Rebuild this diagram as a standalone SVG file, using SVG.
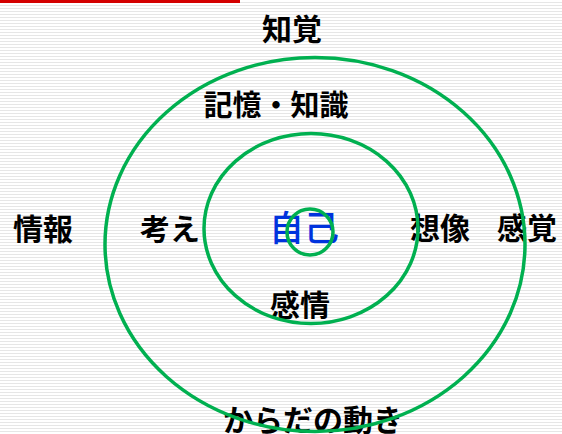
<svg xmlns="http://www.w3.org/2000/svg" width="562" height="434" viewBox="0 0 562 434">
<defs>
<pattern id="stripes" width="562" height="3" patternUnits="userSpaceOnUse">
<rect width="562" height="3" fill="#ffffff"/>
<rect y="2" width="562" height="1" fill="#e6e6e6"/>
</pattern>
</defs>
<style>
.t{font-family:"Noto Sans CJK JP","Liberation Sans",sans-serif;font-weight:bold;font-size:30px;fill:#000;text-anchor:middle}
.self{font-family:"Noto Sans CJK JP","Liberation Sans",sans-serif;font-weight:500;font-size:35px;fill:#0033dd;text-anchor:middle}
.ring{fill:none;stroke:#00b050;stroke-width:3.5}
</style>
<rect width="562" height="434" fill="url(#stripes)"/>
<rect x="0" y="0" width="240" height="3" fill="#d40000"/>
<g id="labels">
<g id="n-chikaku"><text class="t" x="292" y="40">知覚</text></g>
<g id="n-kioku"><text class="t" x="276" y="116" style="font-size:29px">記憶・知識</text></g>
<g id="n-jouhou"><text class="t" x="43" y="240">情報</text></g>
<g id="n-kangae"><text class="t" x="170" y="240">考え</text></g>
<g id="n-jiko"><text class="self" x="304" y="241">自己</text></g>
<g id="n-souzou"><text class="t" x="440" y="239">想像</text></g>
<g id="n-kankaku"><text class="t" x="527" y="239">感覚</text></g>
<g id="n-kanjou"><text class="t" x="300" y="316">感情</text></g>
<g id="n-karada"><text class="t" x="313" y="431">からだの動き</text></g>
</g>
<g id="rings">
<ellipse class="ring" cx="315" cy="244.5" rx="210" ry="187"/>
<ellipse class="ring" cx="311" cy="228.5" rx="107" ry="95"/>
<circle class="ring" cx="310" cy="232" r="23"/>
</g>
</svg>
